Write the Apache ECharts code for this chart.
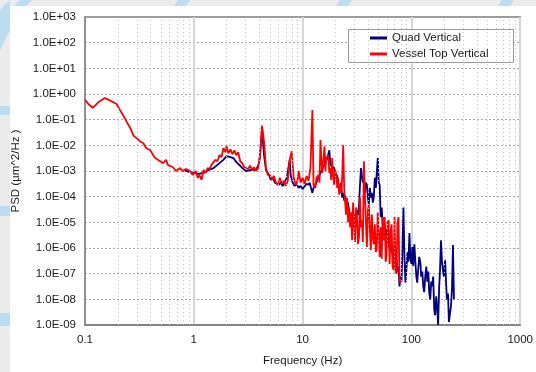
<!DOCTYPE html>
<html>
<head>
<meta charset="utf-8">
<script src="https://cdn.jsdelivr.net/npm/echarts@6/dist/echarts.min.js"></script>
<style>
html,body{margin:0;padding:0;background:#ebebeb;}
#chart{width:536px;height:372px;}
</style>
</head>
<body>
<div id="chart"></div>
<script>
// ---- data ----
const xTickLabels = ['0.1', '1', '10', '100', '1000'];
const yTickLabels = ['1.0E-09','1.0E-08','1.0E-07','1.0E-06','1.0E-05','1.0E-04','1.0E-03','1.0E-02','1.0E-01','1.0E+00','1.0E+01','1.0E+02','1.0E+03'];
const seriesNames = ['Quad Vertical', 'Vessel Top Vertical'];

const freqQuad = [
  0.811,0.900,1.00,1.11,1.23,1.37,1.52,1.69,1.87,2.00,2.17,2.31,2.46,2.67,2.85,3.03,3.37,3.74,3.98,4.06,4.24,4.42,4.61,
  4.91,5.11,5.34,5.56,5.80,6.05,6.31,6.57,6.85,7.15,7.30,7.61,7.77,8.11,8.45,8.82,9.19,9.59,10.0,10.43,10.87,11.34,11.6,12.3,12.6,13.1,13.7,14.3,14.9,15.2,15.9,16.2,16.9,17.6,18.0,18.7,19.5,19.9,
  20.8,21.2,21.7,22.1,22.6,23.1,23.6,24.1,24.6,25.1,25.6,26.2,26.8,27.3,27.9,28.5,29.1,29.7,30.3,31.0,31.6,32.3,33.0,33.7,34.4,35.1,35.8,36.6,37.4,38.2,39.0,39.8,40.6,41.5,42.4,43.3,44.2,45.1,46.1,47.1,48.0,49.1,50.1,51.1,52.2,53.3,54.5,55.6,56.8,58.0,59.2,60.5,61.7,63.1,64.4,65.7,67.1,68.5,70.0,71.5,73.0,74.5,76.1,77.7,79.4,
  81.1,82.8,84.5,86.3,88.2,90.0,91.9,93.9,95.9,97.9,100,102,104,106.5,108.7,111,113,116,118,121,123,126,128.5,131,134,137,140,143,146,149,152,155,158.5,162,165,169,172,176,180,183,187,191,195,199,204,208,212,217,221,226,231,236,241,246
];
const psdQuad = [
  1.1e-3,9.2e-4,8.4e-4,7.7e-4,8.4e-4,1.1e-3,1.3e-3,1.9e-3,2.7e-3,3.8e-3,3.5e-3,3.2e-3,2.2e-3,1.6e-3,1.2e-3,1.0e-3,1.1e-3,1.1e-3,2.0e-3,4.1e-3,4.5e-2,4.1e-3,1.1e-3,
  7.0e-4,4.5e-4,5.4e-4,3.5e-4,4.1e-4,2.9e-4,3.5e-4,2.6e-4,3.8e-4,5.4e-4,6.4e-4,2.7e-3,7.0e-4,3.5e-4,2.6e-4,3.2e-4,2.2e-4,2.6e-4,2.0e-4,2.2e-4,3.2e-4,2.9e-4,3.5e-4,1.4e-4,2.2e-4,2.9e-4,4.5e-4,7.0e-4,1.0e-3,1.3e-3,1.6e-3,1.7e-3,3.2e-3,6.4e-3,1.7e-3,2.0e-3,1.3e-3,8.4e-4,
  6.4e-4,3.5e-4,2.2e-4,1.7e-4,3.5e-4,9.2e-5,1.4e-4,7.0e-5,1.1e-4,4.5e-5,3.8e-5,5.9e-5,1.9e-5,1.2e-5,2.4e-5,7.7e-6,1.6e-5,6.4e-6,2.0e-5,1.4e-5,2.9e-5,1.9e-5,4.5e-5,2.9e-4,1.3e-3,6.4e-4,3.5e-4,5.4e-4,1.4e-4,3.5e-4,2.9e-4,9.2e-5,4.9e-5,2.2e-4,9.2e-5,1.4e-4,5.9e-5,9.2e-5,5.4e-4,2.2e-4,8.4e-4,3.2e-3,3.5e-4,2.9e-4,1.6e-5,3.8e-5,7.7e-6,4.9e-6,8.4e-6,3.2e-6,5.4e-6,1.7e-6,2.7e-6,8.4e-7,2.0e-6,2.0e-6,5.4e-7,2.4e-7,7.0e-7,1.9e-7,3.5e-7,1.2e-7,1.9e-7,3.2e-8,7.7e-8,
  4.9e-8,1.1e-6,3.8e-5,4.5e-7,4.5e-8,1.4e-7,7.0e-7,2.9e-7,3.8e-6,3.8e-7,2.4e-7,1.1e-6,2.0e-7,1.4e-6,2.9e-7,7.7e-8,4.5e-8,1.9e-7,4.5e-7,2.7e-7,7.7e-8,1.2e-7,3.2e-8,1.9e-8,7.7e-8,1.9e-7,4.9e-8,1.2e-7,1.7e-8,1.0e-8,4.9e-8,3.2e-8,7.7e-8,4.1e-9,2.4e-9,1.3e-8,5.4e-9,1.0e-9,3.2e-8,1.2e-7,2.0e-6,2.9e-7,1.4e-7,7.7e-8,3.5e-7,4.9e-8,1.0e-8,1.7e-8,1.3e-9,1.2e-9,5.4e-9,2.4e-8,1.3e-6,1.0e-8
];

const freqVessel = [
  0.100,0.109,0.118,0.134,0.152,0.172,0.195,0.212,0.226,0.241,0.262,0.279,0.297,0.323,0.344,0.366,0.398,0.424,0.442,0.451,0.491,0.522,0.556,0.580,0.605,0.644,0.685,0.745,0.794,0.845,0.919,0.979,
  1.04,1.09,1.13,1.18,1.23,1.29,1.34,1.40,1.46,1.52,1.58,1.65,1.72,1.80,1.87,1.95,2.00,2.08,2.17,2.26,2.36,2.46,2.56,2.67,2.79,2.91,3.03,3.16,3.29,3.44,3.58,3.74,3.90,4.06,4.24,4.42,4.61,4.80,
  5.01,5.22,5.45,5.68,5.92,6.17,6.44,6.71,7.00,7.30,7.61,7.94,8.28,8.64,9.00,9.19,9.59,10.0,10.43,10.87,11.34,11.8,12.3,12.6,13.1,13.4,14.0,14.3,14.6,14.9,15.2,15.9,16.2,16.5,17.2,17.6,18.0,18.3,18.7,19.1,19.5,19.9,20.4,20.8,21.2,21.7,
  22.1,22.6,23.1,23.6,24.1,24.6,25.1,25.6,26.2,26.8,27.3,27.9,28.5,29.1,29.7,30.3,31.0,31.6,32.3,33.0,33.7,34.4,35.1,35.8,36.6,37.4,38.2,39.0,39.8,40.6,41.5,42.4,43.3,44.2,45.1,46.1,47.1,48.0,49.1,50.1,51.1,52.2,53.3,54.5,55.6,56.8,58.0,59.2,60.5,61.7,63.1,64.4,65.7,67.1,68.5,70.0,71.5,73.0,74.5,76.1,77.7,79.4
];
const psdVessel = [
  5.9e-1,3.8e-1,2.9e-1,4.9e-1,7.0e-1,5.4e-1,4.1e-1,2.2e-1,1.4e-1,8.4e-2,4.5e-2,2.4e-2,1.9e-2,1.4e-2,1.2e-2,7.7e-3,6.4e-3,4.1e-3,3.2e-3,3.8e-3,2.4e-3,2.0e-3,2.7e-3,1.7e-3,2.0e-3,1.4e-3,1.0e-3,1.3e-3,1.0e-3,1.2e-3,1.0e-3,7.0e-4,
  1.0e-3,5.4e-4,7.0e-4,4.5e-4,1.1e-3,8.4e-4,1.3e-3,1.2e-3,1.8e-3,1.6e-3,2.7e-3,2.4e-3,4.1e-3,3.5e-3,7.7e-3,5.4e-3,9.2e-3,4.9e-3,7.0e-3,4.5e-3,6.4e-3,4.1e-3,5.4e-3,2.4e-3,2.0e-3,1.4e-3,1.6e-3,1.2e-3,1.6e-3,1.1e-3,1.4e-3,1.0e-3,1.3e-3,4.1e-3,5.9e-2,1.4e-2,1.3e-3,7.0e-4,
  7.0e-4,4.5e-4,6.4e-4,3.5e-4,2.9e-4,5.4e-4,3.2e-4,4.1e-4,2.6e-4,4.1e-4,2.7e-3,5.9e-3,5.4e-4,2.9e-4,4.5e-4,1.0e-3,3.5e-4,5.4e-4,3.2e-4,6.4e-4,4.1e-4,1.3e-3,2.4e-1,2.9e-4,2.2e-4,5.4e-4,7.0e-4,3.5e-4,1.6e-2,2.4e-3,8.4e-4,9.2e-3,1.0e-3,3.2e-3,4.1e-3,8.4e-4,1.3e-3,4.5e-4,3.2e-3,6.4e-4,2.9e-4,1.1e-3,7.0e-4,2.2e-4,5.4e-4,1.2e-4,
  2.9e-4,1.4e-4,5.4e-4,1.0e-2,2.2e-4,5.9e-5,2.0e-5,9.2e-5,1.0e-5,3.8e-5,6.4e-6,2.4e-5,2.0e-6,5.9e-5,1.2e-5,1.7e-6,3.8e-5,1.6e-5,1.4e-6,2.7e-6,9.2e-5,6.4e-6,1.2e-5,1.7e-6,2.4e-3,1.2e-4,1.0e-5,1.1e-6,2.9e-5,4.9e-5,4.9e-6,8.4e-7,2.0e-5,2.7e-6,1.4e-6,8.4e-6,7.0e-7,8.4e-7,2.4e-5,3.5e-6,4.5e-7,6.4e-6,3.8e-7,1.6e-5,2.0e-6,1.6e-5,2.9e-7,5.9e-7,1.0e-5,1.2e-5,2.4e-7,4.1e-6,8.4e-6,1.9e-7,1.4e-7,1.6e-5,1.2e-7,1.0e-7,1.0e-5,1.6e-5,7.7e-8,4.1e-8
];

// ---- chart ----
const FONT = '"Liberation Sans", Arial, sans-serif';
const pair = (xs, ys) => xs.map((x, i) => [x, ys[i]]);

// minor vertical grid positions (2..9 within each decade)
const minorLines = [];
for (let d = -1; d <= 2; d++) {
  for (let m = 2; m <= 9; m++) minorLines.push({ xAxis: m * Math.pow(10, d) });
}

const chart = echarts.init(document.getElementById('chart'), null, { renderer: 'canvas' });
chart.setOption({
  animation: false,
  backgroundColor: '#ebebeb',
  textStyle: { fontFamily: FONT },
  graphic: [
    { type: 'rect', z: -10, silent: true, shape: { x: 10, y: 6, width: 526, height: 366 }, style: { fill: '#ffffff' } },
    { type: 'polygon', z: -10, silent: true, shape: { points: [[20,0],[32,0],[26,6],[14,6]] }, style: { fill: '#bcdcf0' } },
    { type: 'polygon', z: -10, silent: true, shape: { points: [[178,0],[190,0],[186,6],[174,6]] }, style: { fill: '#bcdcf0' } },
    { type: 'polygon', z: -10, silent: true, shape: { points: [[340,0],[352,0],[348,6],[336,6]] }, style: { fill: '#bcdcf0' } },
    { type: 'polygon', z: -10, silent: true, shape: { points: [[502,0],[514,0],[510,6],[498,6]] }, style: { fill: '#bcdcf0' } },
    { type: 'polygon', z: -10, silent: true, shape: { points: [[0,10],[10,0],[10,30],[0,50]] }, style: { fill: '#bcdcf0' } },
    { type: 'rect', z: -10, silent: true, shape: { x: 0, y: 106, width: 10, height: 9 }, style: { fill: '#bcdcf0' } },
    { type: 'rect', z: -10, silent: true, shape: { x: 0, y: 206, width: 10, height: 10 }, style: { fill: '#bcdcf0' } },
    { type: 'rect', z: -10, silent: true, shape: { x: 0, y: 313, width: 10, height: 13 }, style: { fill: '#bcdcf0' } },
    // legend frame
    { type: 'rect', z: 3, silent: true, shape: { x: 348.5, y: 29.5, width: 165, height: 33 }, style: { fill: '#ffffff', stroke: '#9a9a9a', lineWidth: 1 } }
  ],
  legend: {
    z: 6,
    orient: 'vertical',
    left: 370, top: 31,
    padding: 0,
    itemWidth: 17, itemHeight: 3, itemGap: 2, itemTextGap: 2,
    icon: 'rect',
    data: seriesNames,
    textStyle: { fontFamily: FONT, fontSize: 11.5, color: '#1a1a1a', lineHeight: 14 }
  },
  grid: { left: 85, right: 12, top: 17, bottom: 43, show: true, borderColor: '#7a7a7a', borderWidth: 1.5, backgroundColor: 'transparent' },
  xAxis: {
    type: 'log', logBase: 10, min: 0.1, max: 1000, interval: 1,
    name: 'Frequency (Hz)', nameLocation: 'middle', nameGap: 30,
    nameTextStyle: { fontFamily: FONT, fontSize: 11.5, color: '#1a1a1a' },
    axisLine: { show: true, lineStyle: { color: '#7a7a7a', width: 1.5 } },
    axisTick: { show: false },
    axisLabel: {
      margin: 9, fontFamily: FONT, fontSize: 11.5, color: '#1a1a1a',
      formatter: v => xTickLabels[Math.round(Math.log10(v)) + 1]
    },
    splitLine: { show: true, lineStyle: { color: '#d6d6d6', width: 2, type: 'solid' } }
  },
  yAxis: {
    type: 'log', logBase: 10, min: 1e-9, max: 1e3, interval: 1,
    name: 'PSD (µm^2/Hz )', nameLocation: 'middle', nameGap: 61, nameRotate: 90,
    nameTextStyle: { fontFamily: FONT, fontSize: 11.5, color: '#1a1a1a' },
    axisLine: { show: true, lineStyle: { color: '#7a7a7a', width: 1.5 } },
    axisTick: { show: false },
    axisLabel: {
      margin: 9, fontFamily: FONT, fontSize: 11.5, color: '#1a1a1a',
      formatter: v => yTickLabels[Math.round(Math.log10(v)) + 9]
    },
    splitLine: { show: true, lineStyle: { color: '#a8a8a8', width: 1, type: [2, 2] } }
  },
  series: [
    {
      name: 'minor-grid', type: 'line', z: 1, data: [], silent: true,
      markLine: {
        silent: true, symbol: ['none', 'none'], label: { show: false },
        lineStyle: { color: '#c4c4c4', width: 1, type: [1, 3] },
        emphasis: { disabled: true },
        data: minorLines
      }
    },
    {
      name: seriesNames[0], type: 'line', showSymbol: false, z: 2,
      color: '#000080',
      lineStyle: { color: '#000080', width: 1.8 },
      data: pair(freqQuad, psdQuad)
    },
    {
      name: seriesNames[1], type: 'line', showSymbol: false, z: 3,
      color: '#ff0000',
      lineStyle: { color: '#ff0000', width: 1.8 },
      data: pair(freqVessel, psdVessel)
    }
  ]
});
</script>
</body>
</html>
